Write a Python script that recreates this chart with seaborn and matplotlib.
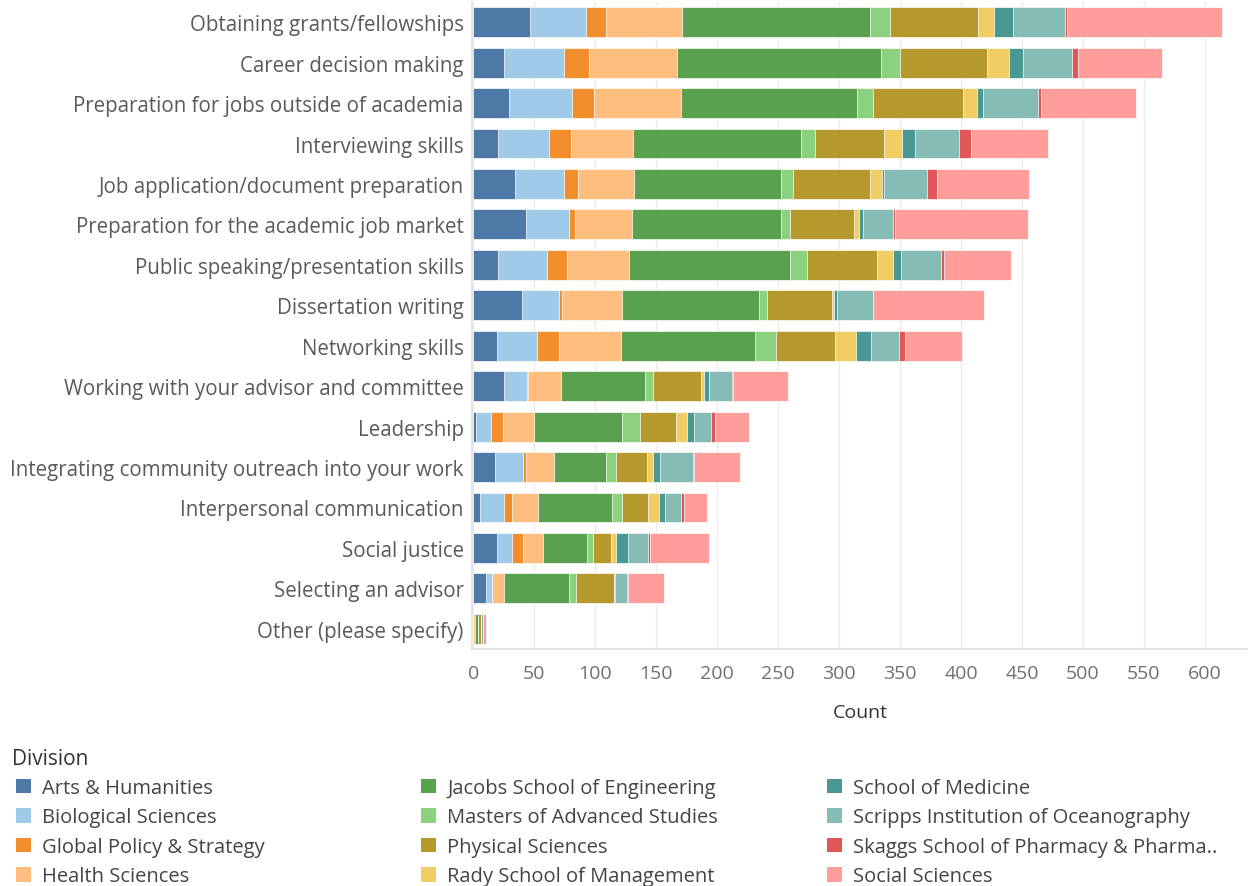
import numpy as np
import matplotlib
matplotlib.use("Agg")
import matplotlib.pyplot as plt
import seaborn as sns
from matplotlib.patches import Patch

skills = [
    "Obtaining grants/fellowships",
    "Career decision making",
    "Preparation for jobs outside of academia",
    "Interviewing skills",
    "Job application/document preparation",
    "Preparation for the academic job market",
    "Public speaking/presentation skills",
    "Dissertation writing",
    "Networking skills",
    "Working with your advisor and committee",
    "Leadership",
    "Integrating community outreach into your work",
    "Interpersonal communication",
    "Social justice",
    "Selecting an advisor",
    "Other (please specify)",
]

divisions = [
    "Arts & Humanities", "Biological Sciences", "Global Policy & Strategy",
    "Health Sciences", "Jacobs School of Engineering", "Masters of Advanced Studies",
    "Physical Sciences", "Rady School of Management", "School of Medicine",
    "Scripps Institution of Oceanography", "Skaggs School of Pharmacy & Pharma..",
    "Social Sciences",
]

arts = [46, 25, 29, 20, 34, 43, 20, 40, 19, 25, 2, 18, 5, 19, 10, 0]
bio = [46, 49, 52, 42, 40, 35, 40, 30, 33, 19, 12, 23, 20, 13, 5, 0]
gps = [17, 21, 18, 18, 12, 5, 17, 3, 18, 1, 10, 2, 7, 9, 0, 0]
health = [62, 72, 71, 51, 46, 47, 51, 49, 51, 27, 26, 23, 21, 16, 10, 1]
jacobs = [154, 167, 145, 138, 120, 122, 132, 112, 110, 69, 72, 43, 61, 36, 53, 3]
mas = [17, 16, 13, 11, 10, 8, 14, 7, 17, 6, 15, 8, 8, 5, 6, 0]
phys = [72, 71, 74, 57, 63, 52, 57, 53, 49, 40, 29, 25, 21, 15, 31, 2]
rady = [13, 18, 11, 15, 10, 4, 13, 2, 17, 2, 9, 5, 9, 4, 0, 0]
med = [16, 12, 5, 10, 2, 4, 7, 2, 12, 4, 6, 6, 5, 10, 1, 0]
scripps = [42, 40, 45, 36, 35, 24, 33, 30, 23, 19, 14, 27, 13, 16, 10, 2]
skaggs = [2, 5, 3, 10, 8, 2, 2, 0, 5, 1, 3, 1, 3, 2, 1, 0]
social = [127, 69, 78, 63, 76, 109, 55, 91, 47, 45, 28, 38, 19, 48, 29, 2]

colors = ["#4E79A7", "#A0CBE8", "#F28E2B", "#FFBE7D", "#59A14F", "#8CD17D",
          "#B6992D", "#F1CE63", "#499894", "#86BCB6", "#E15759", "#FF9D9A"]

sns.set_theme(style="white")
plt.rcParams['font.family'] = ['Open Sans', 'DejaVu Sans']

W, H = 1248, 887
fig = plt.figure(figsize=(W / 100, H / 100), dpi=100)
ax = fig.add_axes([472 / W, 1 - 650 / H, (W - 472) / W, 647 / H])

# stacked bars: draw cumulative totals, widest first
values = np.array([arts, bio, gps, health, jacobs, mas, phys, rady, med,
                   scripps, skaggs, social])
cum = values.cumsum(axis=0)
for i in reversed(range(len(divisions))):
    sns.barplot(x=cum[i], y=skills, order=skills, orient="h", color=colors[i],
                saturation=1, width=0.74, edgecolor="white", linewidth=0.5, ax=ax)

ax.set_xlim(-1.2, 635.5)
ax.set_ylim(15.5, -0.5)
ax.set_xticks(range(0, 601, 50))
ax.xaxis.grid(True, color="#ebebeb", linewidth=1)
ax.set_axisbelow(True)
for s in ["top", "right"]:
    ax.spines[s].set_visible(False)
ax.spines["left"].set_color("#e0e0e0")
ax.spines["bottom"].set_color("#e0e0e0")
ax.tick_params(axis="x", length=0, pad=11, labelsize=14, labelcolor="#707070")
ax.tick_params(axis="y", length=0, pad=6, labelsize=14.8, labelcolor="#5a5a5a")
ax.set_ylabel("")
ax.set_xlabel("Count", fontsize=14, color="#333333", labelpad=15)

fig.text(12 / W, 1 - 760 / H, "Division", fontsize=15, color="#333333", va="center")
col_x = [16, 421, 827]
for c in range(3):
    idx = range(c * 4, c * 4 + 4)
    handles = [Patch(facecolor=colors[i], edgecolor="none") for i in idx]
    labels = [divisions[i] for i in idx]
    fig.legend(handles, labels, loc="upper left",
               bbox_to_anchor=(col_x[c] / W, 1 - 779 / H), frameon=False,
               fontsize=14.5, handlelength=0.75, handleheight=0.75,
               handletextpad=0.55, labelspacing=0.47, borderaxespad=0,
               borderpad=0, labelcolor="#444444")

fig.savefig("out.png", dpi=100)
